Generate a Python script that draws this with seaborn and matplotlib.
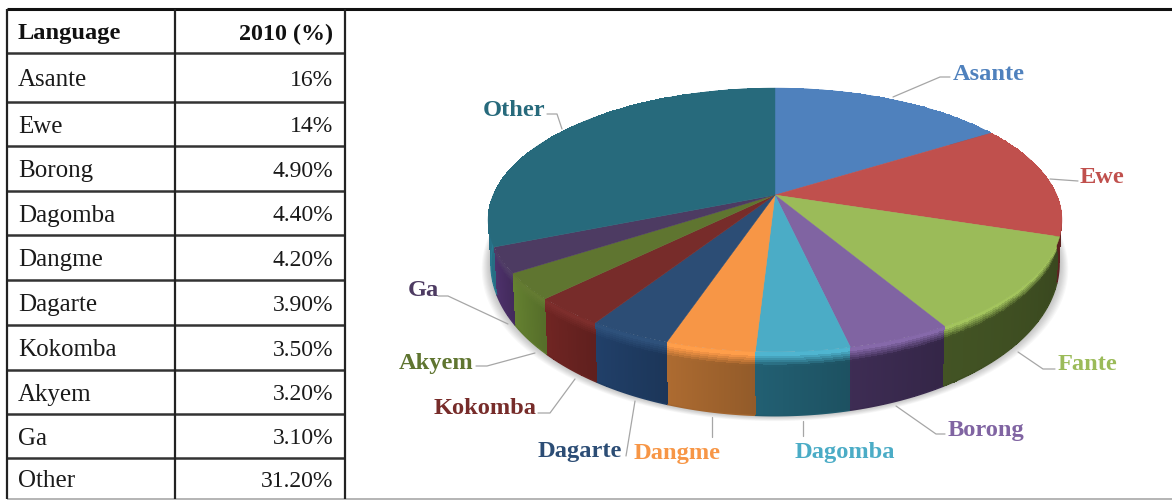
import numpy as np
import matplotlib
matplotlib.use("Agg")
import matplotlib.pyplot as plt
from matplotlib.colors import to_rgb
import seaborn as sns

# ---- data ----
table_languages = ["Asante", "Ewe", "Borong", "Dagomba", "Dangme", "Dagarte",
                   "Kokomba", "Akyem", "Ga", "Other"]
table_shares = ["16%", "14%", "4.90%", "4.40%", "4.20%", "3.90%",
                "3.50%", "3.20%", "3.10%", "31.20%"]
pie_labels = ["Asante", "Ewe", "Fante", "Borong", "Dagomba", "Dangme",
              "Dagarte", "Kokomba", "Akyem", "Ga", "Other"]
pie_values = [16, 14, 11.6, 4.9, 4.4, 4.2, 3.9, 3.5, 3.2, 3.1, 31.2]

# ---- styles and layout (pixels) ----
top_colors = ["#4f81bd", "#c0504d", "#9bbb59", "#8064a2", "#4bacc6", "#f79646",
              "#2c4d75", "#772c2a", "#5f7530", "#4d3b62", "#276a7c"]
wall_colors = ["#2f4d71", "#5a2220", "#3f4f22", "#3a2a4f", "#205a6c", "#a3652e",
               "#1f3c63", "#6a2321", "#5f7a2e", "#4a2f66", "#2a7a92"]
text_colors = ["#4f81bd", "#c0504d", "#9bbb59", "#8064a2", "#4bacc6", "#f79646",
               "#2c4d75", "#772c2a", "#5f7530", "#4d3b62", "#276a7c"]
label_pos = {"Asante": (953, 74), "Ewe": (1080, 178), "Fante": (1058, 365),
             "Borong": (948, 431), "Dagomba": (795, 453), "Dangme": (634, 454),
             "Dagarte": (538, 452), "Kokomba": (434, 409), "Akyem": (399, 364),
             "Ga": (408, 291), "Other": (483, 110)}
leaders = {"Asante": [(893, 98), (940, 78), (950, 78)],
           "Ewe": [(1050, 180), (1078, 182)],
           "Fante": [(1018, 353), (1043, 370), (1055, 370)],
           "Borong": [(896, 407), (936, 435), (945, 435)],
           "Dagomba": [(803, 422), (803, 437)],
           "Dangme": [(712, 418), (712, 438)],
           "Dagarte": [(635, 402), (626, 457)],
           "Kokomba": [(575, 380), (550, 414), (538, 414)],
           "Akyem": [(535, 354), (487, 367), (476, 367)],
           "Ga": [(508, 325), (448, 297), (438, 297)],
           "Other": [(562, 130), (557, 115), (547, 115)]}
row_lines = [10, 54, 103, 147, 192, 236, 281, 326, 371, 415, 459, 500]
col_lines = [7, 175, 345]
SERIF = "Liberation Serif"

sns.set_theme(style="white")
plt.rcParams["font.family"] = [SERIF, "DejaVu Serif"]

fig = plt.figure(figsize=(11.72, 5.02), dpi=100, facecolor="white")
ax = fig.add_axes([0, 0, 1, 1])

# Wedge angles come from matplotlib's pie layout; the wedges are then re-projected.
wedges, _ = ax.pie(pie_values, startangle=90, counterclock=False, colors=top_colors)
thetas = [(w.theta1, w.theta2) for w in wedges]
for w in wedges:
    w.remove()
ax.set_aspect("auto")
ax.set_xlim(0, 1172)
ax.set_ylim(502, 0)
ax.set_axis_off()

CX, B = 775.0, 0.189
TOP = dict(cy=196.0, a=127.2, r=281.8)
BOT = dict(cy=236.0, a=146.6, r=279.0)


def project(theta_deg, cy, a, r):
    t = np.radians(theta_deg)
    x, y = np.cos(t), np.sin(t)
    d = 1 + B * y
    return CX + r * x / d, cy - a * y / d


# soft shadow
full = np.linspace(0, 360, 361)
for k in range(1, 10):
    sx, sy = project(full, BOT["cy"] + 0.6 * k, BOT["a"], BOT["r"] + k)
    ax.fill(sx, sy, color="black", alpha=0.028, lw=0, zorder=1)

# walls, far ones first
mid_depth = [np.sin(np.radians((a + b) / 2)) for a, b in thetas]
order = np.argsort(-np.array(mid_depth))
for i in order:
    t1, t2 = thetas[i]
    th = np.linspace(t1, t2, 50)
    x0, y0 = project(th, **TOP)
    x1, y1 = project(th, **BOT)
    s = np.linspace(0, 1, 31)[:, None]
    X = x0[None, :] * (1 - s) + x1[None, :] * s
    Y = y0[None, :] * (1 - s) + y1[None, :] * s
    top_c = np.array(to_rgb(top_colors[i]))
    wall_c = np.array(to_rgb(wall_colors[i]))
    sc = (s[:-1, 0] + s[1:, 0]) / 2
    mix = np.clip((sc - 0.05) / 0.17, 0, 1)[:, None, None]
    shade = np.linspace(1.06, 0.90, 49)[None, :, None]
    C = (top_c[None, None, :] * 1.05) * (1 - mix) + (wall_c[None, None, :] * shade) * mix
    ax.pcolormesh(X, Y, np.clip(C, 0, 1), shading="flat", zorder=2 + 0.01 * (10 - i))
    ax.plot(x1, y1, color=wall_colors[i], lw=1.0, zorder=2.5)

# top face
for i, (t1, t2) in enumerate(thetas):
    th = np.linspace(t1, t2, 80)
    px, py = project(th, **TOP)
    ax_x = np.r_[CX, px]
    ax_y = np.r_[TOP["cy"], py]
    ax.fill(ax_x, ax_y, facecolor=top_colors[i], edgecolor=top_colors[i], lw=0.3, zorder=3)

# labels and leader lines
for name, col in zip(pie_labels, text_colors):
    pts = np.array(leaders[name])
    ax.plot(pts[:, 0], pts[:, 1], color="#a6a6a6", lw=0.9, zorder=4)
    lx, ly = label_pos[name]
    ax.text(lx, ly, name, color=col, fontsize=17.6, fontweight="bold",
            ha="left", va="center", zorder=5)

# table
ax.hlines(row_lines[0], 7, 1172, color="#111111", lw=2.2, zorder=6)
ax.hlines(row_lines[1:-1], col_lines[0], col_lines[-1], color="#333333", lw=1.8, zorder=6)
ax.hlines(row_lines[-1], col_lines[0], 1172, color="#a8a8a8", lw=1.2, zorder=6)
ax.vlines(col_lines, row_lines[0], row_lines[-1], color="#222222", lw=1.6, zorder=6)

ax.text(18, 34, "Language", fontsize=17.6, fontweight="bold", color="#111111", va="center", ha="left")
ax.text(333, 34, "2010 (%)", fontsize=17.3, fontweight="bold", color="#111111", va="center", ha="right")
for j, (lang, val) in enumerate(zip(table_languages, table_shares)):
    yc = (row_lines[j + 1] + row_lines[j + 2]) / 2 + 2
    ax.text(18, yc, lang, fontsize=18, color="#1a1a1a", va="center", ha="left")
    ax.text(333, yc, val, fontsize=17, color="#1a1a1a", va="center", ha="right")

fig.savefig("out.png", dpi=100, facecolor="white")
